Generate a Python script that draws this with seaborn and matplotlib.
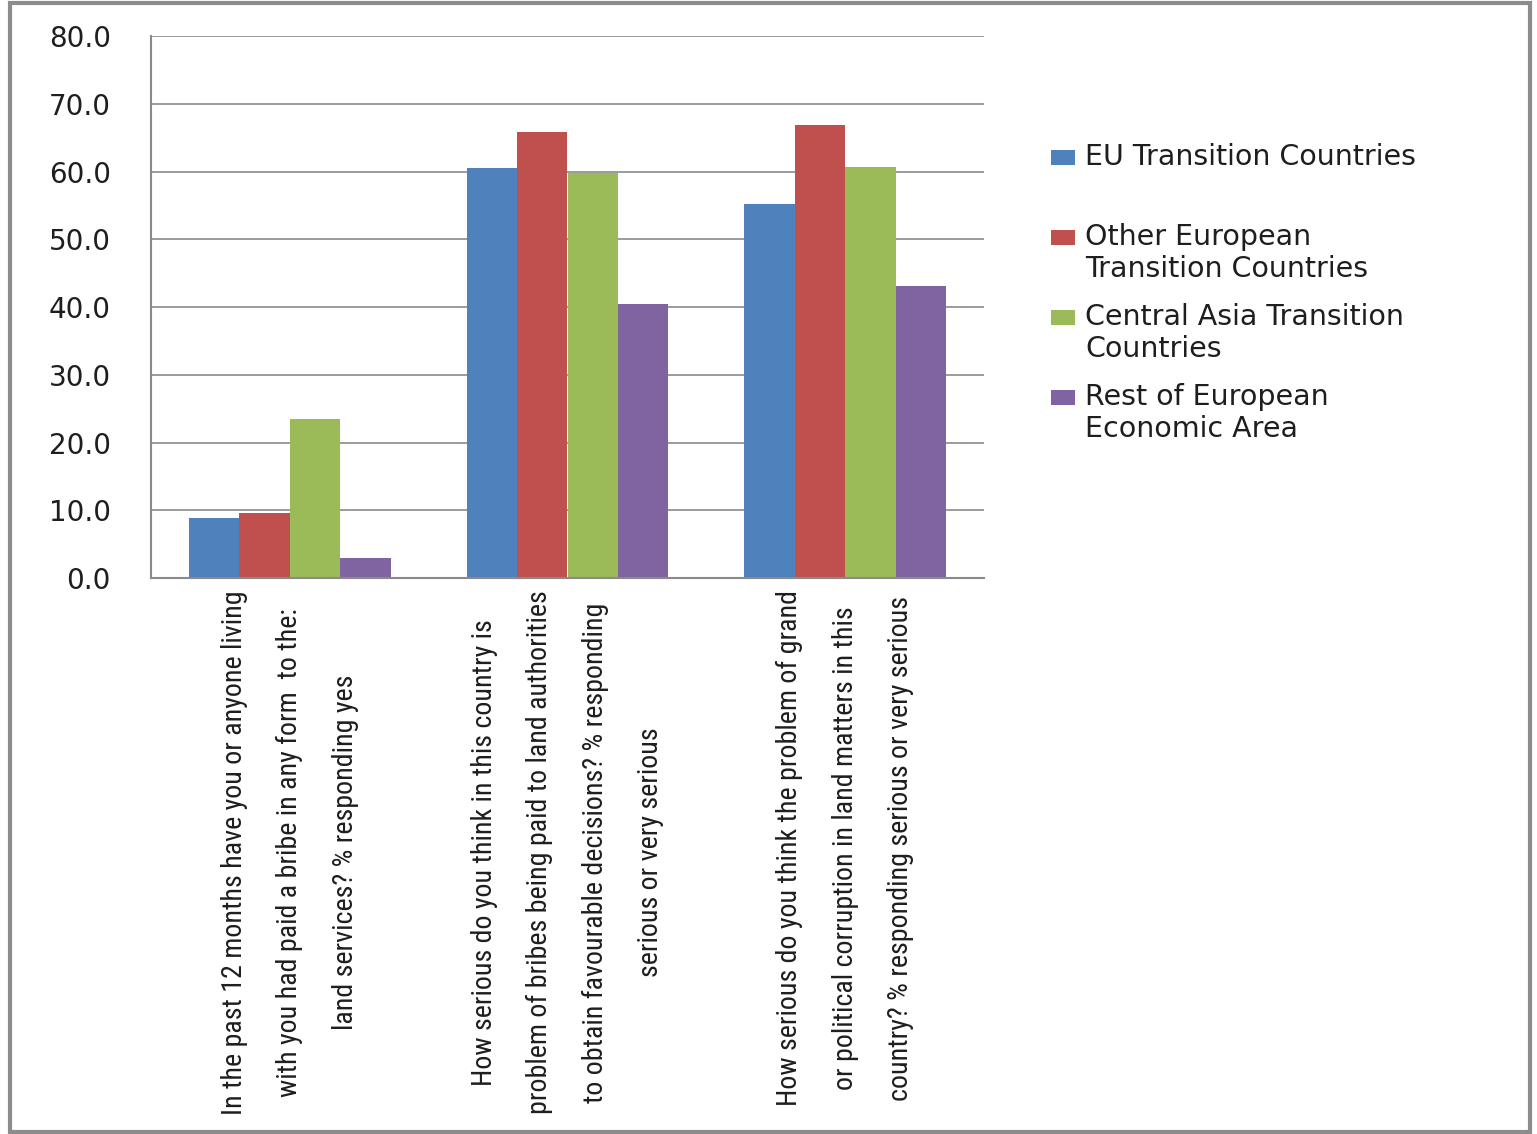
import matplotlib
matplotlib.use("Agg")
import matplotlib.pyplot as plt
from matplotlib import font_manager
from matplotlib.patches import Rectangle
from matplotlib.ticker import FormatStrFormatter
import seaborn as sns
import pandas as pd

# ---------------- data ----------------
categories = [
    "In the past 12 months have you or anyone living\nwith you had paid a bribe in any form  to the:\nland services? % responding yes",
    "How serious do you think in this country is\nproblem of bribes being paid to land authorities\nto obtain favourable decisions? % responding\nserious or very serious",
    "How serious do you think the problem of grand\nor political corruption in land matters in this\ncountry? % responding serious or very serious",
]
series = [
    "EU Transition Countries",
    "Other European Transition Countries",
    "Central Asia Transition Countries",
    "Rest of European Economic Area",
]
legend_labels = [
    "EU Transition Countries",
    "Other European\nTransition Countries",
    "Central Asia Transition\nCountries",
    "Rest of European\nEconomic Area",
]
eu_transition = [8.9, 60.5, 55.2]
other_european = [9.6, 65.8, 66.9]
central_asia = [23.5, 59.8, 60.7]
rest_eea = [2.9, 40.4, 43.1]
y_ticks = [0, 10, 20, 30, 40, 50, 60, 70, 80]

colors = ["#4F81BD", "#C0504D", "#9BBB59", "#8064A2"]

values = [eu_transition, other_european, central_asia, rest_eea]
rows = []
for s, vals in zip(series, values):
    for c, v in zip(categories, vals):
        rows.append({"question": c, "group": s, "value": v})
df = pd.DataFrame(rows)

# ---------------- style ----------------
sns.set_style("white")
names = {f.name for f in font_manager.fontManager.ttflist}
narrow = None
for cand in ["Liberation Sans Narrow", "Roboto Condensed", "Open Sans Condensed", "DejaVu Sans Condensed"]:
    if cand in names:
        narrow = cand
        break
plt.rcParams["font.family"] = ["DejaVu Sans"]
text_color = "#1e1e1e"
grid_color = "#8a8a8a"

W, H = 1537, 1134
fig = plt.figure(figsize=(W / 100, H / 100), dpi=100)
fig.patch.set_facecolor("white")
ax = fig.add_axes([151 / W, 1 - 578 / H, (984 - 151) / W, (578 - 36) / H])

sns.barplot(data=df, x="question", y="value", hue="group", hue_order=series,
            order=categories, palette=colors, saturation=1, width=0.727,
            ax=ax, legend=False, edgecolor="none", linewidth=0)

ax.set_xlim(-0.5, 2.5)
ax.set_ylim(0, 80)
ax.set_yticks(y_ticks)
ax.yaxis.set_major_formatter(FormatStrFormatter("%.1f"))
ax.set_xlabel("")
ax.set_ylabel("")
ax.yaxis.grid(True, color=grid_color, linewidth=1.2)
ax.set_axisbelow(True)
for side in ["top", "right"]:
    ax.spines[side].set_visible(False)
for side in ["left", "bottom"]:
    ax.spines[side].set_color(grid_color)
    ax.spines[side].set_linewidth(1.5)

ax.tick_params(axis="y", length=8, width=1.2, color=grid_color, pad=21,
               labelsize=20, labelcolor=text_color)

ax.set_xticks(range(len(categories)))
xfam = [narrow, "DejaVu Sans"] if narrow else ["DejaVu Sans"]
ax.set_xticklabels(categories, rotation=90, ha="center", va="top",
                   multialignment="center", linespacing=2.35,
                   fontsize=20.2, family=xfam, color=text_color,
                   fontstretch="condensed")
ax.tick_params(axis="x", which="major", length=0, pad=9)
ax.set_xticks([-0.5, 0.5, 1.5, 2.5], minor=True)
ax.tick_params(axis="x", which="minor", length=8, width=1.2, color=grid_color)

# ---------------- legend ----------------
for i, (lab, col) in enumerate(zip(legend_labels, colors)):
    yc = 158 + 80 * i
    fig.patches.append(Rectangle((1051 / W, 1 - (yc + 7) / H), 24 / W, 15 / H,
                                 transform=fig.transFigure, facecolor=col,
                                 edgecolor="none"))
    fig.text(1085 / W, 1 - (yc - 15) / H, lab, ha="left", va="top",
             fontsize=20.5, color=text_color, linespacing=1.2)

# ---------------- outer frame ----------------
fig.patches.append(Rectangle((10 / W, 2 / H), 1520 / W, 1129 / H,
                             transform=fig.transFigure, fill=False,
                             edgecolor="#8c8c8c", linewidth=3))

fig.savefig("out.png", dpi=100, facecolor="white")
